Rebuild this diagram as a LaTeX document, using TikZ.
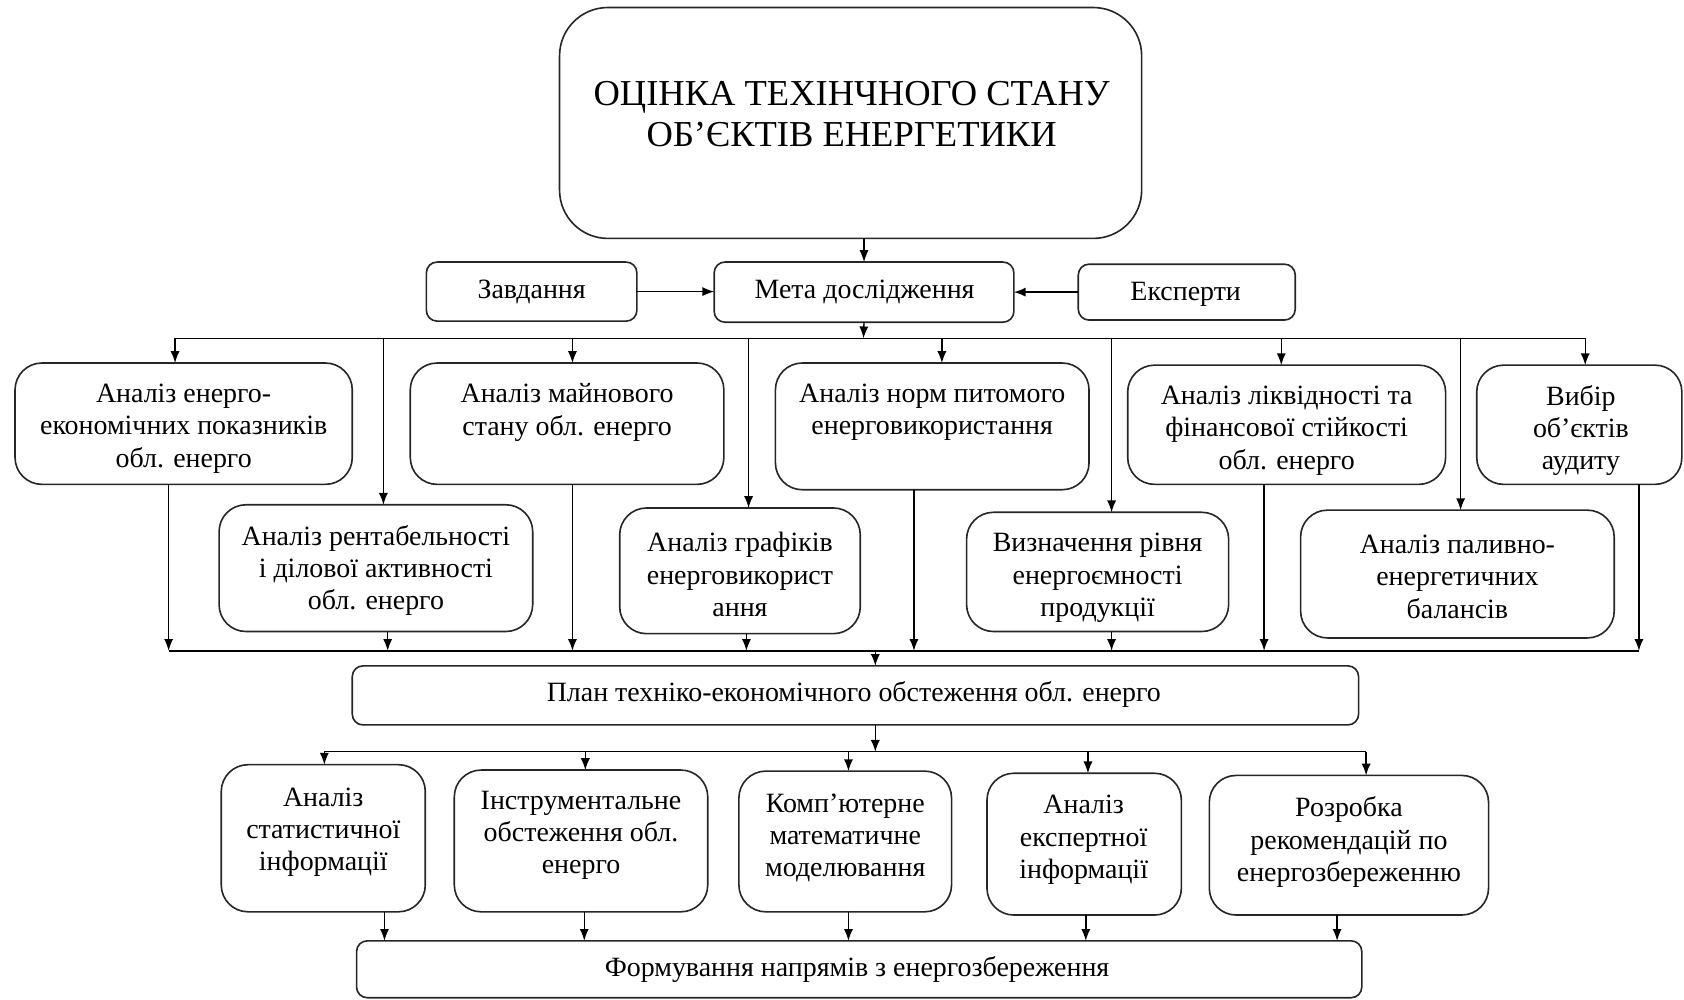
\documentclass[tikz,border=0pt]{standalone}
\usepackage{fontspec}
\setmainfont{Liberation Serif}
\usetikzlibrary{arrows.meta}
\tikzset{
 box/.style={draw=black!85, line width=1.5pt, fill=white, inner sep=0pt, outer sep=0pt},
 txt/.style={align=center, inner sep=0pt, yshift=-2pt, font=\fontsize{26}{30}\selectfont},
 arr/.style={line width=1.3pt, -{Latex[length=11pt,width=8.5pt]}},
 ln/.style={line width=1.3pt},
}
\newcommand\bx[6]{\node[box, rounded corners=#6pt, minimum width={#4pt-#2pt}, minimum height={#5pt-#3pt}] (#1) at ({(#2+#4)/2},{(#3+#5)/2}) {};}
\begin{document}
\begin{tikzpicture}[x=1pt,y=-1pt]
\path[use as bounding box] (0,0) rectangle (1568,931);
% top
\bx{top}{521}{7}{1063}{222}{45}
\node[txt, font=\fontsize{34}{38}\selectfont] (topt) at (793,104) {ОЦІНКА ТЕХІНЧНОГО СТАНУ\\ОБ’ЄКТІВ ЕНЕРГЕТИКИ};
% row 1
\bx{zav}{397}{244}{593}{299}{10}
\node[txt] (zavt) at (495,270) {Завдання};
\bx{meta}{665}{244}{944}{300}{10}
\node[txt] (metat) at (805,270) {Мета дослідження};
\bx{eks}{1004}{246}{1206}{298}{10}
\node[txt] (ekst) at (1104,272) {Експерти};
% row A
\bx{a1}{14}{338}{328}{451}{25}
\node[txt] (a1t) at (171,397) {Аналіз енерго-\\економічних показників\\обл. енерго};
\bx{a2}{382}{338}{674}{451}{25}
\node[txt] (a2t) at (528,382) {Аналіз майнового\\стану обл. енерго};
\bx{a3}{722}{338}{1014}{456}{25}
\node[txt] (a3t) at (868,382) {Аналіз норм питомого\\енерговикористання};
\bx{a4}{1050}{340}{1346}{451}{25}
\node[txt] (a4t) at (1198,399) {Аналіз ліквідності та\\фінансової стійкості\\обл. енерго};
\bx{a5}{1375}{340}{1566}{451}{25}
\node[txt] (a5t) at (1472,399) {Вибір\\об'єктів\\аудиту};
% row B
\bx{b1}{204}{470}{496}{588}{25}
\node[txt] (b1t) at (350,529) {Аналіз рентабельності\\і ділової активності\\обл. енерго};
\bx{b2}{577}{473}{801}{590}{25}
\node[txt] (b2t) at (689,533) {Аналіз графіків\\енерговикорист\\ання};
\bx{b3}{900}{477}{1144}{588}{25}
\node[txt] (b3t) at (1022,536) {Визначення рівня\\енергоємності\\продукції};
\bx{b4}{1211}{475}{1503}{594}{25}
\node[txt] (b4t) at (1357,535) {Аналіз паливно-\\енергетичних\\балансів};
% plan
\bx{plan}{328}{620}{1265}{675}{10}
\node[txt] (plant) at (795,645) {План техніко-економічного обстеження обл. енерго};
% row C
\bx{c1}{206}{712}{396}{849}{25}
\node[txt] (c1t) at (301,773) {Аналіз\\статистичної\\інформації};
\bx{c2}{423}{717}{659}{849}{25}
\node[txt] (c2t) at (541,776) {Інструментальне\\обстеження обл.\\енерго};
\bx{c3}{688}{718}{886}{849}{25}
\node[txt] (c3t) at (787,778) {Комп’ютерне\\математичне\\моделювання};
\bx{c4}{919}{720}{1100}{852}{25}
\node[txt] (c4t) at (1009,780) {Аналіз\\експертної\\інформації};
\bx{c5}{1126}{722}{1386}{852}{25}
\node[txt] (c5t) at (1256,782) {Розробка\\рекомендацій по\\енергозбереженню};
% final
\bx{fin}{332}{876}{1268}{929}{10}
\node[txt] (fint) at (798,901) {Формування напрямів з енергозбереження};
% connectors top
\draw[arr] (meta.north |- top.south) -- (meta.north);
\draw[arr] (zav.east) -- (meta.west |- zav.east);
\draw[arr] (eks.west) -- (meta.east |- eks.west);
% bus 1
\coordinate (bus1) at (804,315);
\draw[arr] (meta.south) -- (bus1);
\coordinate (d1) at (163,315);
\coordinate (d2) at (357,315);
\coordinate (d3) at (533,315);
\coordinate (d4) at (697,315);
\coordinate (d5) at (877,315);
\coordinate (d6) at (1035,315);
\coordinate (d7) at (1193,315);
\coordinate (d8) at (1360,315);
\coordinate (d9) at (1476,315);
\draw[ln] (d1) -- (d9);
\draw[arr] (d1) -- (d1 |- a1.north);
\draw[arr] (d2) -- (d2 |- b1.north);
\draw[arr] (d3) -- (d3 |- a2.north);
\draw[arr] (d4) -- (d4 |- b2.north);
\draw[arr] (d5) -- (d5 |- a3.north);
\draw[arr] (d6) -- (d6 |- b3.north);
\draw[arr] (d7) -- (d7 |- a4.north);
\draw[arr] (d8) -- (d8 |- b4.north);
\draw[arr] (d9) -- (d9 |- a5.north);
% bus 2
\coordinate (u1) at (157,606);
\coordinate (u2) at (361,606);
\coordinate (u3) at (533,606);
\coordinate (u4) at (695,606);
\coordinate (u5) at (851,606);
\coordinate (u6) at (1035,606);
\coordinate (u7) at (1177,606);
\coordinate (u8) at (1526,606);
\draw[ln] (u1) -- (u8);
\draw[arr] (u1 |- a1.south) -- (u1);
\draw[arr] (u2 |- b1.south) -- (u2);
\draw[arr] (u3 |- a2.south) -- (u3);
\draw[arr] (u4 |- b2.south) -- (u4);
\draw[arr] (u5 |- a3.south) -- (u5);
\draw[arr] (u6 |- b3.south) -- (u6);
\draw[arr] (u7 |- a4.south) -- (u7);
\draw[arr] (u8 |- a5.south) -- (u8);
\coordinate (bus2) at (815,606);
\draw[arr] (bus2) -- (bus2 |- plan.north);
% bus 3
\coordinate (bus3) at (815,700);
\draw[arr] (bus3 |- plan.south) -- (bus3);
\coordinate (e1) at (302,700);
\coordinate (e2) at (545,700);
\coordinate (e3) at (790,700);
\coordinate (e4) at (1013,700);
\coordinate (e5) at (1272,700);
\draw[ln] (e1) -- (e5);
\draw[arr] (e1) -- (e1 |- c1.north);
\draw[arr] (e2) -- (e2 |- c2.north);
\draw[arr] (e3) -- (e3 |- c3.north);
\draw[arr] (e4) -- (e4 |- c4.north);
\draw[arr] (e5) -- (e5 |- c5.north);
% to final
\coordinate (f1) at (358,876);
\coordinate (f2) at (544,876);
\coordinate (f3) at (790,876);
\coordinate (f4) at (1011,876);
\coordinate (f5) at (1245,876);
\draw[arr] (f1 |- c1.south) -- (f1 |- fin.north);
\draw[arr] (f2 |- c2.south) -- (f2 |- fin.north);
\draw[arr] (f3 |- c3.south) -- (f3 |- fin.north);
\draw[arr] (f4 |- c4.south) -- (f4 |- fin.north);
\draw[arr] (f5 |- c5.south) -- (f5 |- fin.north);
\end{tikzpicture}
\end{document}
